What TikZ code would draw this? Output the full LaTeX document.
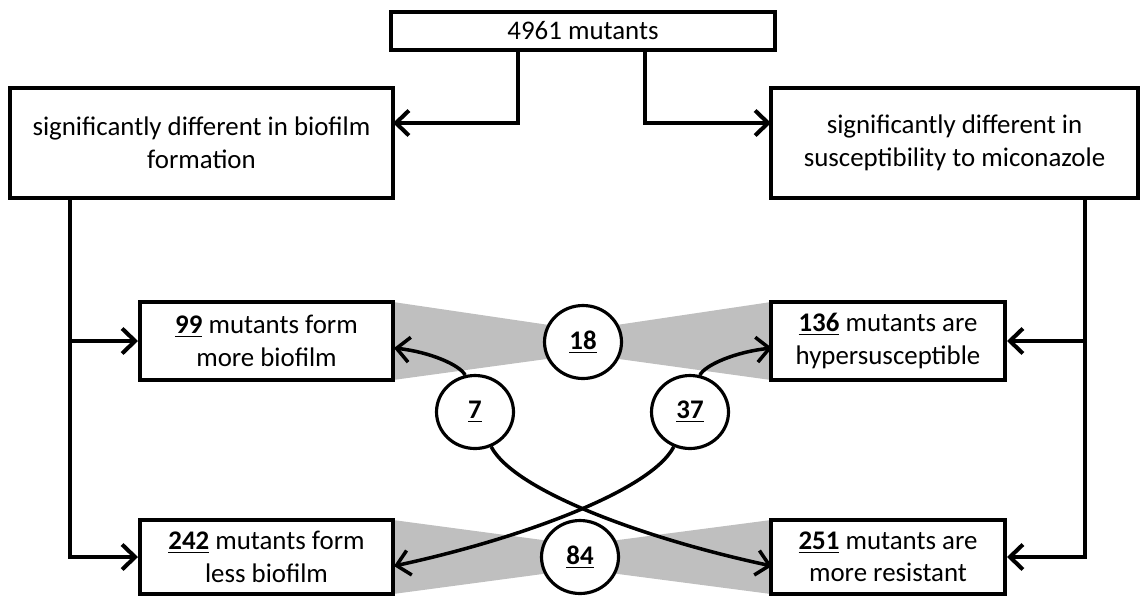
\documentclass[tikz,border=0pt]{standalone}
\usepackage{fontspec}
\setmainfont{Carlito}
\usetikzlibrary{arrows.meta,shapes.geometric,calc}
\begin{document}
\begin{tikzpicture}[x=0.02cm,y=-0.02cm,
  box/.style={draw, line width=2.3pt, fill=white, align=center, inner sep=0pt,
    font=\fontsize{15.3}{18.5}\selectfont},
  num/.style={draw, ellipse, line width=1.8pt, fill=white, inner sep=0pt,
    minimum width=1.54cm, minimum height=1.46cm, font=\fontsize{15.3}{16}\selectfont},
  conn/.style={line width=2.3pt, -{Straight Barb[length=0.26cm,width=0.5cm]}},
  curv/.style={line width=2pt, -{Straight Barb[length=0.26cm,width=0.5cm]}},
  wedge/.style={fill=gray!50, draw=none}]
\useasboundingbox (0,0) rectangle (1145,596);
% coordinates of the circle centres and wedge tips
\coordinate (p18) at (583,342);
\coordinate (p84) at (580,557);
\coordinate (w18a) at (583,330);
\coordinate (w18b) at (583,354);
\coordinate (w84a) at (580,545);
\coordinate (w84b) at (580,569);
% wedges (behind everything)
\fill[wedge] (393,302) -- (393,380) -- (w18b) -- (w18a) -- cycle;
\fill[wedge] (771,302) -- (771,380) -- (w18b) -- (w18a) -- cycle;
\fill[wedge] (393,520) -- (393,594) -- (w84b) -- (w84a) -- cycle;
\fill[wedge] (771,520) -- (771,594) -- (w84b) -- (w84a) -- cycle;
% nodes
\node[box, minimum width=7.68cm, minimum height=0.76cm] (top) at (583,31) {4961 mutants};
\node[box, minimum width=7.66cm, minimum height=2.2cm] (left) at (201.5,143)
  {significantly different in biofilm\\formation};
\node[box, minimum width=7.34cm, minimum height=2.2cm] (right) at (954.5,143)
  {significantly different in\\susceptibility to miconazole};
\node[box, minimum width=5.06cm, minimum height=1.56cm] (b99) at (266.5,341)
  {\underline{\textbf{99}} mutants form\\more biofilm};
\node[box, minimum width=4.68cm, minimum height=1.56cm] (b136) at (888,341)
  {\underline{\textbf{136}} mutants are\\hypersusceptible};
\node[box, minimum width=5.06cm, minimum height=1.48cm] (b242) at (266.5,557)
  {\underline{\textbf{242}} mutants form\\less biofilm};
\node[box, minimum width=4.68cm, minimum height=1.48cm] (b251) at (888,557)
  {\underline{\textbf{251}} mutants are\\more resistant};
\node[num] (c18) at (p18) {\underline{\textbf{18}}};
\node[num] (c84) at (p84) {\underline{\textbf{84}}};
\node[num] (c7) at (475,412) {\underline{\textbf{7}}};
\node[num] (c37) at (690,412) {\underline{\textbf{37}}};
% top connectors
\coordinate (tl) at (518,50);
\coordinate (tr) at (645,50);
\coordinate (le) at (393,123);
\coordinate (re) at (771,123);
\draw[conn] (tl) |- (le);
\draw[conn] (tr) |- (re);
% left and right trunks
\coordinate (lt) at (70,198);
\coordinate (rt) at (1085,198);
\draw[conn] (lt) |- (b242.west);
\draw[conn] (lt |- b99.west) -- (b99.west);
\draw[conn] (rt) |- (b251.east);
\draw[conn] (rt |- b136.east) -- (b136.east);
% curved arrows
\coordinate (a99) at (394,348);
\coordinate (a136) at (772,348);
\coordinate (a242) at (394,566);
\coordinate (a251) at (772,566);
\draw[curv] (c7.105) .. controls (460,365) and (430,352) .. (a99);
\draw[curv] (c37.75) .. controls (705,365) and (735,352) .. (a136);
\draw[curv] (c7.-65) .. controls (515,492) and (650,540) .. (a251);
\draw[curv] (c37.-115) .. controls (650,492) and (515,540) .. (a242);
\end{tikzpicture}
\end{document}
